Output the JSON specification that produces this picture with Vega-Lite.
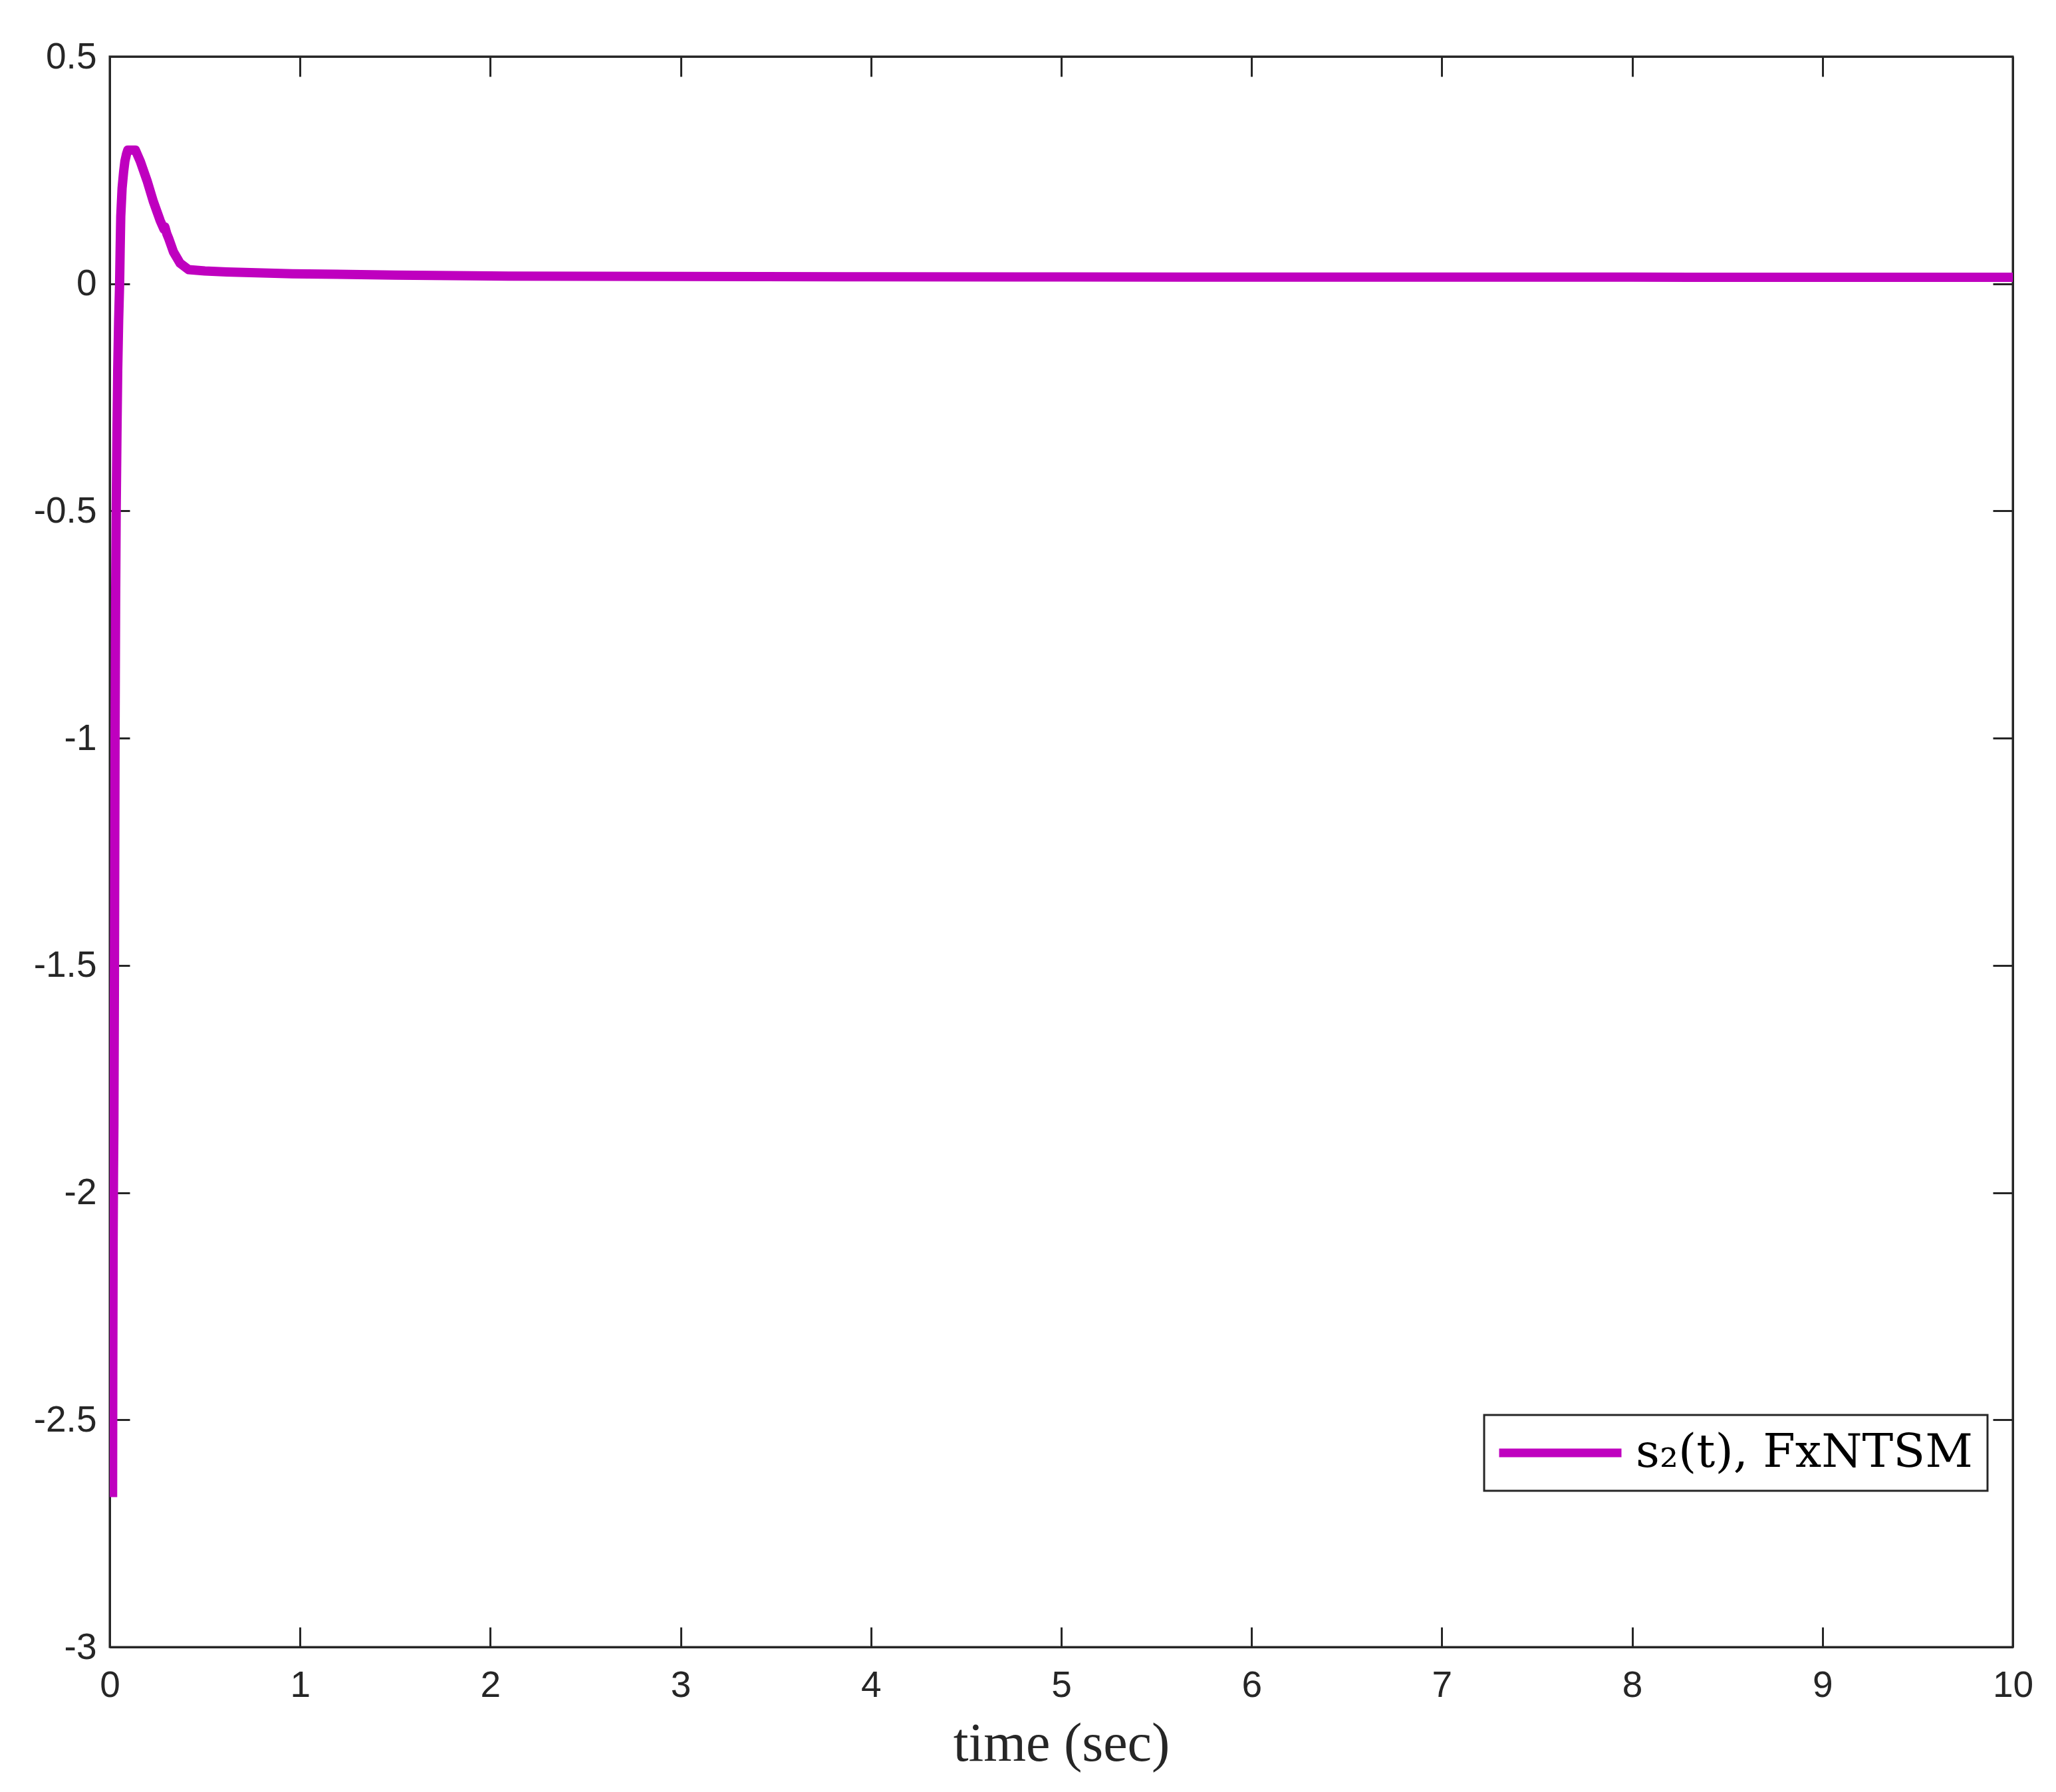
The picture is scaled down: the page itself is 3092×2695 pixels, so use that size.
{
  "$schema": "https://vega.github.io/schema/vega-lite/v6.json",
  "width": 2862,
  "height": 2392,
  "autosize": {"type": "none"},
  "padding": {"left": 165, "top": 85, "right": 65, "bottom": 218},
  "background": "white",
  "data": {"values": [
    {"t": 0.015, "s": -2.67, "series": "s₂(t), FxNTSM"},
    {"t": 0.016, "s": -2.4, "series": "s₂(t), FxNTSM"},
    {"t": 0.018, "s": -2.1, "series": "s₂(t), FxNTSM"},
    {"t": 0.020, "s": -1.95, "series": "s₂(t), FxNTSM"},
    {"t": 0.022, "s": -1.85, "series": "s₂(t), FxNTSM"},
    {"t": 0.025, "s": -1.5, "series": "s₂(t), FxNTSM"},
    {"t": 0.028, "s": -1.0, "series": "s₂(t), FxNTSM"},
    {"t": 0.031, "s": -0.7, "series": "s₂(t), FxNTSM"},
    {"t": 0.034, "s": -0.5, "series": "s₂(t), FxNTSM"},
    {"t": 0.038, "s": -0.33, "series": "s₂(t), FxNTSM"},
    {"t": 0.042, "s": -0.19, "series": "s₂(t), FxNTSM"},
    {"t": 0.047, "s": -0.08, "series": "s₂(t), FxNTSM"},
    {"t": 0.052, "s": 0.0, "series": "s₂(t), FxNTSM"},
    {"t": 0.055, "s": 0.08, "series": "s₂(t), FxNTSM"},
    {"t": 0.058, "s": 0.148, "series": "s₂(t), FxNTSM"},
    {"t": 0.065, "s": 0.21, "series": "s₂(t), FxNTSM"},
    {"t": 0.073, "s": 0.246, "series": "s₂(t), FxNTSM"},
    {"t": 0.08, "s": 0.27, "series": "s₂(t), FxNTSM"},
    {"t": 0.088, "s": 0.285, "series": "s₂(t), FxNTSM"},
    {"t": 0.095, "s": 0.294, "series": "s₂(t), FxNTSM"},
    {"t": 0.135, "s": 0.294, "series": "s₂(t), FxNTSM"},
    {"t": 0.16, "s": 0.27, "series": "s₂(t), FxNTSM"},
    {"t": 0.196, "s": 0.227, "series": "s₂(t), FxNTSM"},
    {"t": 0.23, "s": 0.18, "series": "s₂(t), FxNTSM"},
    {"t": 0.265, "s": 0.139, "series": "s₂(t), FxNTSM"},
    {"t": 0.285, "s": 0.12, "series": "s₂(t), FxNTSM"},
    {"t": 0.29, "s": 0.125, "series": "s₂(t), FxNTSM"},
    {"t": 0.30, "s": 0.11, "series": "s₂(t), FxNTSM"},
    {"t": 0.31, "s": 0.0995, "series": "s₂(t), FxNTSM"},
    {"t": 0.335, "s": 0.07, "series": "s₂(t), FxNTSM"},
    {"t": 0.37, "s": 0.045, "series": "s₂(t), FxNTSM"},
    {"t": 0.415, "s": 0.031, "series": "s₂(t), FxNTSM"},
    {"t": 0.5, "s": 0.028, "series": "s₂(t), FxNTSM"},
    {"t": 0.615, "s": 0.026, "series": "s₂(t), FxNTSM"},
    {"t": 0.96, "s": 0.022, "series": "s₂(t), FxNTSM"},
    {"t": 1.5, "s": 0.019, "series": "s₂(t), FxNTSM"},
    {"t": 2, "s": 0.017, "series": "s₂(t), FxNTSM"},
    {"t": 3, "s": 0.016, "series": "s₂(t), FxNTSM"},
    {"t": 4, "s": 0.0153, "series": "s₂(t), FxNTSM"},
    {"t": 5, "s": 0.0148, "series": "s₂(t), FxNTSM"},
    {"t": 6, "s": 0.0146, "series": "s₂(t), FxNTSM"},
    {"t": 7, "s": 0.0145, "series": "s₂(t), FxNTSM"},
    {"t": 8, "s": 0.0144, "series": "s₂(t), FxNTSM"},
    {"t": 9, "s": 0.0143, "series": "s₂(t), FxNTSM"},
    {"t": 10, "s": 0.0142, "series": "s₂(t), FxNTSM"}
  ]},
  "layer": [
    {
      "mark": {"type": "line", "strokeWidth": 14, "strokeJoin": "round", "strokeCap": "butt", "clip": true},
      "encoding": {
        "x": {"field": "t", "type": "quantitative",
              "scale": {"domain": [0, 10], "nice": false, "zero": false},
              "axis": {"orient": "bottom", "values": [0,1,2,3,4,5,6,7,8,9,10], "labelExpr": "'' + datum.value",
                       "labelFlush": false,
                       "title": "time (sec)", "titleFont": "Liberation Serif", "titleFontSize": 82, "titleFontWeight": "normal",
                       "titleColor": "#262626", "titlePadding": 20, "labelPadding": 61}},
        "y": {"field": "s", "type": "quantitative",
              "scale": {"domain": [-3, 0.5], "nice": false, "zero": false},
              "axis": {"orient": "left", "values": [-3,-2.5,-2,-1.5,-1,-0.5,0,0.5], "labelExpr": "'' + datum.value",
                       "labelFlush": false, "title": null, "labelPadding": 50}},
        "color": {"field": "series", "type": "nominal",
                  "scale": {"domain": ["s₂(t), FxNTSM"], "range": ["#bf00bf"]},
                  "legend": {"orient": "none", "legendX": 2067, "legendY": 2043, "title": null,
                             "symbolType": "M-1.5,0H6.5", "symbolSize": 2116, "symbolStrokeWidth": 13,
                             "labelFont": "DejaVu Serif", "labelFontSize": 70, "labelColor": "black", "labelLimit": 0,
                             "labelOffset": 136, "padding": 22, "strokeColor": "#262626", "fillColor": "white",
                             "cornerRadius": 0}}
      }
    },
    {
      "mark": {"type": "line", "strokeOpacity": 0},
      "encoding": {
        "x": {"field": "t", "type": "quantitative",
              "scale": {"domain": [0, 10], "nice": false, "zero": false},
              "axis": {"orient": "top", "values": [0,1,2,3,4,5,6,7,8,9,10], "labels": false, "title": null}},
        "y": {"field": "s", "type": "quantitative",
              "scale": {"domain": [-3, 0.5], "nice": false, "zero": false},
              "axis": {"orient": "right", "values": [-3,-2.5,-2,-1.5,-1,-0.5,0,0.5], "labels": false, "title": null}}
      }
    }
  ],
  "resolve": {"axis": {"x": "independent", "y": "independent"}},
  "config": {
    "view": {"stroke": "#262626", "strokeWidth": 3},
    "axis": {"grid": false, "domainColor": "#262626", "domainWidth": 3, "tickColor": "#262626", "tickWidth": 3,
             "tickSize": -30, "labelFont": "Liberation Sans", "labelFontSize": 55, "labelColor": "#262626"},
    "legend": {"strokeWidth": 3}
  }
}
